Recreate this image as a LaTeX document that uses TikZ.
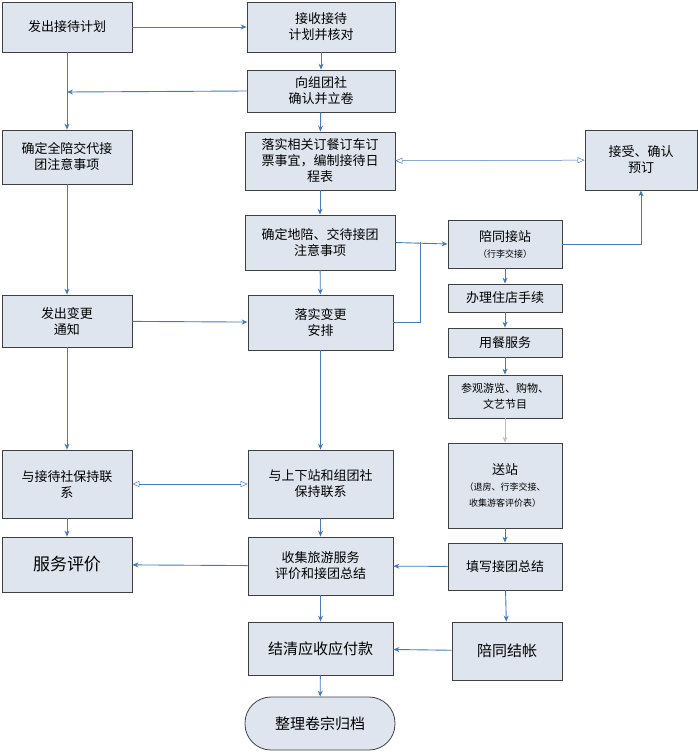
\documentclass[tikz,border=0pt]{standalone}
\usepackage{fontspec}
\setmainfont{Liberation Serif}
\newfontfamily\cjk{Noto Sans CJK SC}
\usetikzlibrary{arrows.meta,positioning}
\begin{document}
\begin{tikzpicture}[x=1pt,y=-1pt,
 bx/.style={draw=black!75,fill={rgb,255:red,222;green,229;blue,238},line width=0.8pt,align=center,font=\cjk\fontsize{13}{16}\selectfont,inner sep=1pt},
 ar/.style={draw={rgb,255:red,74;green,122;blue,180},line width=0.9pt,-{Stealth[length=6pt,width=5pt]}},
 oa/.style={draw={rgb,255:red,74;green,122;blue,180},line width=0.5pt,{Triangle[open,length=7pt,width=6pt]}-{Triangle[open,length=7pt,width=6pt]}}]
\useasboundingbox (0,0) rectangle (698,753);
\newcommand\bxat[6]{\node[bx,minimum width={#4-#2},minimum height={#5-#3}] (#1) at ({(#2+#4)/2},{(#3+#5)/2}) {#6};}
\bxat{a}{2}{2}{132}{52}{发出接待计划}
\bxat{b}{247}{2}{395}{52}{接收接待\\计划并核对}
\bxat{c}{247}{70}{395}{112}{向组团社\\确认并立卷}
\bxat{d}{2}{130}{132}{184}{确定全陪交代接\\团注意事项}
\bxat{e}{245}{132}{395}{190}{落实相关订餐订车订\\票事宜，编制接待日\\程表}
\bxat{f}{585}{130}{697}{190}{接受、确认\\预订}
\bxat{g}{245}{215}{395}{270}{确定地陪、交待接团\\注意事项}
\bxat{h}{448}{220}{562}{268}{陪同接站\\{\fontsize{9}{11}\selectfont（行李交接）}}
\bxat{i}{448}{284}{562}{312}{办理住店手续}
\bxat{j}{448}{328}{562}{357}{用餐服务}
\bxat{k}{448}{375}{562}{418}{{\fontsize{11}{14}\selectfont 参观游览、购物、}\\{\fontsize{11}{14}\selectfont 文艺节目}}
\bxat{l}{448}{443}{562}{528}{送站\\{\fontsize{9}{11}\selectfont（退房、行李交接、}\\{\fontsize{9}{11}\selectfont 收集游客评价表）}}
\bxat{m}{2}{295}{132}{347}{发出变更\\通知}
\bxat{n}{248}{295}{393}{350}{落实变更\\安排}
\bxat{o}{2}{450}{132}{518}{与接待社保持联\\系}
\bxat{p}{248}{450}{393}{518}{与上下站和组团社\\保持联系}
\bxat{q}{2}{537}{132}{592}{{\fontsize{17}{20}\selectfont 服务评价}}
\bxat{r}{248}{537}{393}{595}{收集旅游服务\\评价和接团总结}
\bxat{s}{448}{543}{562}{590}{填写接团总结}
\bxat{t}{248}{622}{393}{675}{{\fontsize{15}{18}\selectfont 结清应收应付款}}
\bxat{u}{452}{622}{562}{680}{{\fontsize{15}{18}\selectfont 陪同结帐}}
\node[bx,rounded corners=26pt,minimum width=150,minimum height=53] (v) at (320,723.5) {{\fontsize{15}{18}\selectfont 整理卷宗归档}};
\draw[ar] (a) -- (b);
\draw[ar] (a) -- (d);
\draw[ar] (b) -- (c);
\draw[ar] (c) -- (e);
\draw[ar] (e) -- (g);
\draw[ar] (c.west) -- (67,92);
\draw[oa] (e) -- (f);
\draw[ar] (h.east) -| (f.south);
\draw[ar] (g.east) -- (h.west);
\draw[draw={rgb,255:red,74;green,122;blue,180},line width=0.9pt] (n.east) -| (420,242);
\draw[ar] (g) -- (n);
\draw[ar] (d) -- (m);
\draw[ar] (m) -- (n);
\draw[ar] (m) -- (o);
\draw[ar] (n) -- (p);
\draw[oa] (o) -- (p);
\draw[ar] (o) -- (q);
\draw[ar] (p) -- (r);
\draw[ar] (r) -- (q);
\draw[ar] (s) -- (r);
\draw[ar] (h) -- (i);
\draw[ar] (i) -- (j);
\draw[ar] (j) -- (k);
\draw[ar,draw=black!25] (k) -- (l);
\draw[ar] (l) -- (s);
\draw[ar] (r) -- (t);
\draw[ar] (s) -- (u);
\draw[ar] (u) -- (t);
\draw[ar] (t) -- (v);
\end{tikzpicture}
\end{document}
